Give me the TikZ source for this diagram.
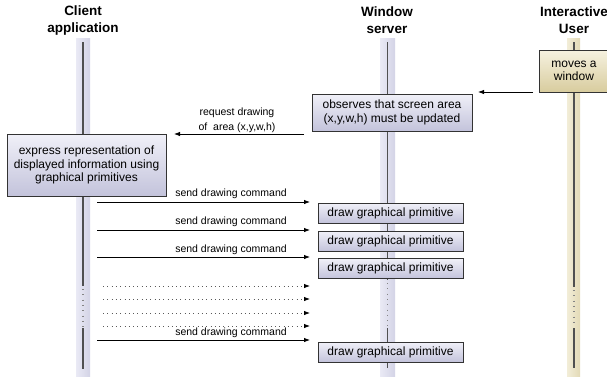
\documentclass[tikz,border=0pt]{standalone}
\usepackage{fontspec}
\setmainfont{Liberation Sans}
\usetikzlibrary{arrows.meta}
\definecolor{bandL}{HTML}{EAEAF5}
\definecolor{bandR}{HTML}{D3D3E6}
\definecolor{boxT}{HTML}{F0F0F8}
\definecolor{boxB}{HTML}{C3C3DB}
\definecolor{begL}{HTML}{F2EDD8}
\definecolor{begR}{HTML}{E3DAB6}
\definecolor{begT}{HTML}{F6F2E0}
\definecolor{begB}{HTML}{D8CC9E}
\definecolor{lifeC}{HTML}{505050}
\begin{document}
\begin{tikzpicture}[x=1pt,y=-1pt,
  hdr/.style={font=\fontsize{13.5}{17}\selectfont\bfseries, align=center, inner sep=0pt},
  boxa/.style={draw=black!80, line width=0.8pt, top color=boxT, bottom color=boxB, align=center, font=\fontsize{12}{13.5}\selectfont, inner sep=0pt},
  boxu/.style={boxa, top color=begT, bottom color=begB},
  lbl/.style={font=\fontsize{10.5}{15}\selectfont, align=center, inner sep=0pt},
  msg/.style={-{Latex[length=6pt,width=4.5pt]}, line width=0.8pt},
  dmsg/.style={-{Latex[length=6pt,width=4.5pt,black]}, line width=0.8pt, draw=black!65, dash pattern=on 0.8pt off 3.5pt},
  life/.style={draw=lifeC, line width=1.3pt},
  lifedot/.style={draw=lifeC!70, line width=1.2pt, dash pattern=on 1pt off 4.3pt}]
\useasboundingbox (0,0) rectangle (607,376);
% lifeline bands
\fill[left color=bandL, right color=bandR] (76,38) rectangle (90,376);
\fill[left color=bandL, right color=bandR] (380,38) rectangle (395,376);
\fill[left color=begL, right color=begR] (567,38) rectangle (580,376);
% lifeline lines
\draw[life] (83,42) -- (83,286);
\draw[lifedot] (83,289) -- (83,327);
\draw[life] (83,328) -- (83,369);
\draw[life] (387.5,42) -- (387.5,280);
\draw[lifedot] (387.5,283) -- (387.5,327);
\draw[life] (387.5,328) -- (387.5,368);
\draw[life] (574,42) -- (574,287);
\draw[lifedot] (574,290) -- (574,327);
\draw[life] (574,328) -- (574,368);
% headers
\node[hdr] (hc) at (83,20.5) {Client\\application};
\node[hdr] (hw) at (387,20.5) {Window\\server};
\node[hdr] (hu) at (574,20.5) {Interactive\\User};
% boxes
\node[boxu, minimum width=70pt, minimum height=42pt] (user) at (574,71) {moves a\\window};
\node[boxa, minimum width=160pt, minimum height=37pt] (obs) at (392,112.5) {observes that screen area\\(x,y,w,h) must be updated};
\node[boxa, minimum width=159pt, minimum height=62pt] (expr) at (86.5,165) {express representation of\\displayed information using\\graphical primitives};
\node[boxa, minimum width=145pt, minimum height=20pt] (d1) at (390.5,213) {draw graphical primitive};
\node[boxa, minimum width=145pt, minimum height=20pt] (d2) at (390.5,241) {draw graphical primitive};
\node[boxa, minimum width=145pt, minimum height=20pt] (d3) at (390.5,268.5) {draw graphical primitive};
\node[boxa, minimum width=145pt, minimum height=20pt] (d4) at (390.5,352) {draw graphical primitive};
% user -> server
\coordinate (ua) at (533,92);
\coordinate (ub) at (478,92);
\draw[msg] (ua) -- (ub);
% request drawing
\coordinate (ra) at (304,134);
\coordinate (rb) at (174,134);
\draw[msg] (ra) -- (rb);
\node[lbl] (rl) at (237,120.5) {request drawing\\of\ \ area (x,y,w,h)};
% send drawing commands
\coordinate (s1a) at (97,202); \coordinate (s1b) at (310,202);
\coordinate (s2a) at (97,230); \coordinate (s2b) at (310,230);
\coordinate (s3a) at (97,257); \coordinate (s3b) at (310,257);
\coordinate (s4a) at (97,340); \coordinate (s4b) at (310,340);
\draw[msg] (s1a) -- (s1b);
\draw[msg] (s2a) -- (s2b);
\draw[msg] (s3a) -- (s3b);
\draw[msg] (s4a) -- (s4b);
\node[lbl] (l1) at (231,194) {send drawing command};
\node[lbl] (l2) at (231,222) {send drawing command};
\node[lbl] (l3) at (231,250) {send drawing command};
\node[lbl] (l4) at (231,333) {send drawing command};
% dotted messages
\coordinate (t1a) at (103,286); \coordinate (t1b) at (310,286);
\coordinate (t2a) at (103,299); \coordinate (t2b) at (310,299);
\coordinate (t3a) at (103,313); \coordinate (t3b) at (310,313);
\coordinate (t4a) at (103,326); \coordinate (t4b) at (310,326);
\draw[dmsg] (t1a) -- (t1b);
\draw[dmsg] (t2a) -- (t2b);
\draw[dmsg] (t3a) -- (t3b);
\draw[dmsg] (t4a) -- (t4b);
\end{tikzpicture}
\end{document}
